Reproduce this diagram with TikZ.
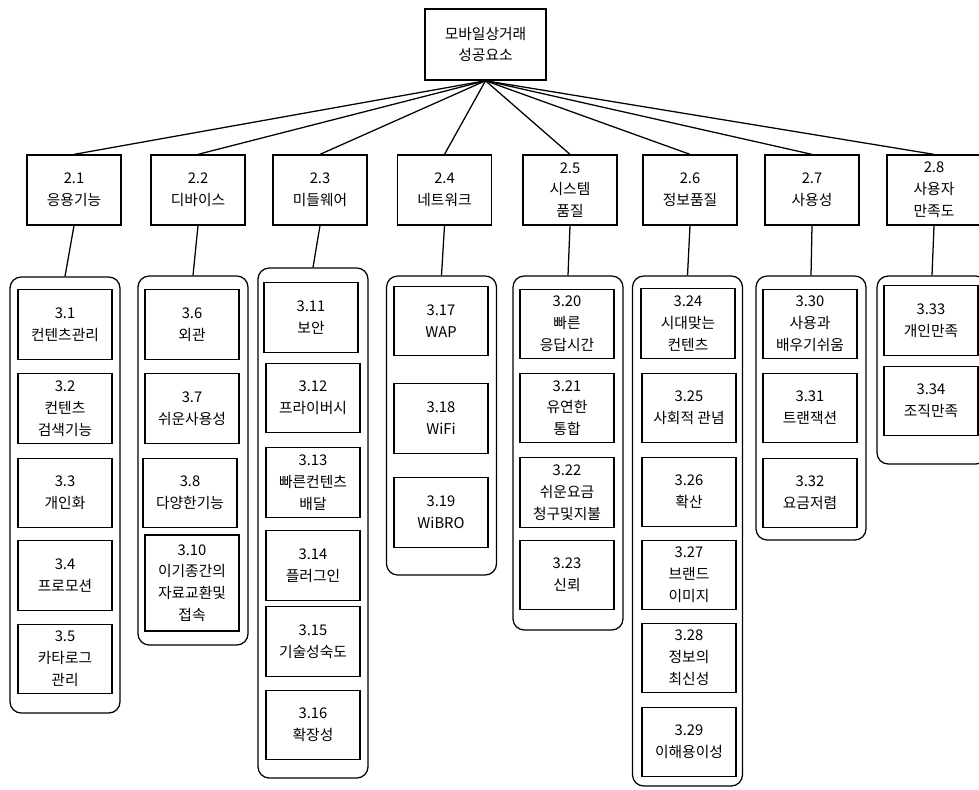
\documentclass[tikz,border=0pt]{standalone}
\usepackage{fontspec}
\newfontfamily\cjk{Noto Sans CJK KR}
\tikzset{
  rootbox/.style={draw, line width=0.9pt, minimum width=3.03cm, minimum height=1.78cm, align=center},
  catbox/.style={draw, line width=0.9pt, minimum width=2.35cm, minimum height=1.75cm, align=center, inner sep=1pt},
  itembox/.style={draw, line width=0.9pt, minimum width=2.35cm, minimum height=1.74cm, align=center, inner sep=1pt},
  groupbox/.style={draw, line width=0.9pt, rounded corners=8pt, minimum width=2.75cm},
}
\begin{document}
\begin{tikzpicture}[x=0.025cm, y=-0.025cm, font={\cjk\fontsize{10.5}{15.5}\selectfont}]
  \useasboundingbox (0,0) rectangle (979,789);
  \clip (0,0) rectangle (979,789);
  % 최상위
  \node[rootbox] (root) at (485.5,44.5) {모바일상거래\\성공요소};
  % 2단계 요소
  \foreach \i/\x/\t in {1/74/{2.1\\응용기능}, 2/198/{2.2\\디바이스}, 3/320/{2.3\\미들웨어},
      4/444.5/{2.4\\네트워크}, 5/570/{2.5\\시스템\\품질}, 6/690/{2.6\\정보품질},
      7/812/{2.7\\사용성}, 8/934/{2.8\\사용자\\만족도}}{
    \node[catbox] (l\i) at (\x,190) {\t};
  }
  % 묶음 (둥근 테두리)
  \foreach \i/\x/\y/\h in {1/65/495/436, 2/193/460.5/369, 3/313/523/510, 4/441.5/425.5/299,
      5/568/453/354, 6/687.5/531/510, 7/811/408/264, 8/932/370/188}{
    \node[groupbox, minimum height=\h*0.025cm] (g\i) at (\x,\y) {};
  }
  % 3단계 요소
  \foreach \n/\x/\y/\t in {a1/65/324.5/{3.1\\컨텐츠관리}, a2/65/408.5/{3.2\\컨텐츠\\검색기능},
      a3/65/493/{3.3\\개인화}, a4/65/575.5/{3.4\\프로모션}, a5/65/659/{3.5\\카타로그\\관리}}{
    \node[itembox] (\n) at (\x,\y) {\t};
  }
  \foreach \n/\x/\y/\t in {b1/192/324.5/{3.6\\외관}, b2/192/408.5/{3.7\\쉬운사용성},
      b3/190/493/{3.8\\다양한기능}}{
    \node[itembox] (\n) at (\x,\y) {\t};
  }
  \node[itembox, minimum height=2.4cm] (b4) at (192,583) {3.10\\이기종간의\\자료교환및\\접속};
  \foreach \n/\x/\y/\t in {c1/311/317.5/{3.11\\보안}, c2/313/398/{3.12\\프라이버시},
      c3/313/482.5/{3.13\\빠른컨텐츠\\배달}, c4/313/565.5/{3.14\\플러그인},
      c5/313/641.5/{3.15\\기술성숙도}, c6/313/725/{3.16\\확장성}}{
    \node[itembox] (\n) at (\x,\y) {\t};
  }
  \foreach \n/\x/\y/\t in {d1/441/321/{3.17\\WAP}, d2/441/418.5/{3.18\\WiFi},
      d3/441/512.5/{3.19\\WiBRO}}{
    \node[itembox] (\n) at (\x,\y) {\t};
  }
  \foreach \n/\x/\y/\t in {e1/567/324/{3.20\\빠른\\응답시간}, e2/567/408/{3.21\\유연한\\통합},
      e3/567/492.5/{3.22\\쉬운요금\\청구및지불}, e4/567/575/{3.23\\신뢰}}{
    \node[itembox] (\n) at (\x,\y) {\t};
  }
  \foreach \n/\x/\y/\t in {f1/688/323.5/{3.24\\시대맞는\\컨텐츠}, f2/689/408/{3.25\\사회적 관념},
      f3/689/492/{3.26\\확산}, f4/689/575/{3.27\\브랜드\\이미지},
      f5/689/658/{3.28\\정보의\\최신성}, f6/689/742/{3.29\\이해용이성}}{
    \node[itembox] (\n) at (\x,\y) {\t};
  }
  \foreach \n/\x/\y/\t in {h1/810/324/{3.30\\사용과\\배우기쉬움}, h2/810/408/{3.31\\트랜잭션},
      h3/810/493/{3.32\\요금저렴}, k1/931/320.5/{3.33\\개인만족}, k2/931/401/{3.34\\조직만족}}{
    \node[itembox] (\n) at (\x,\y) {\t};
  }
  % 연결선
  \foreach \i in {1,...,8}{
    \draw[line width=0.9pt] (root.south) -- (l\i.north);
    \draw[line width=0.9pt] (l\i.south) -- (g\i.north);
  }
\end{tikzpicture}
\end{document}
